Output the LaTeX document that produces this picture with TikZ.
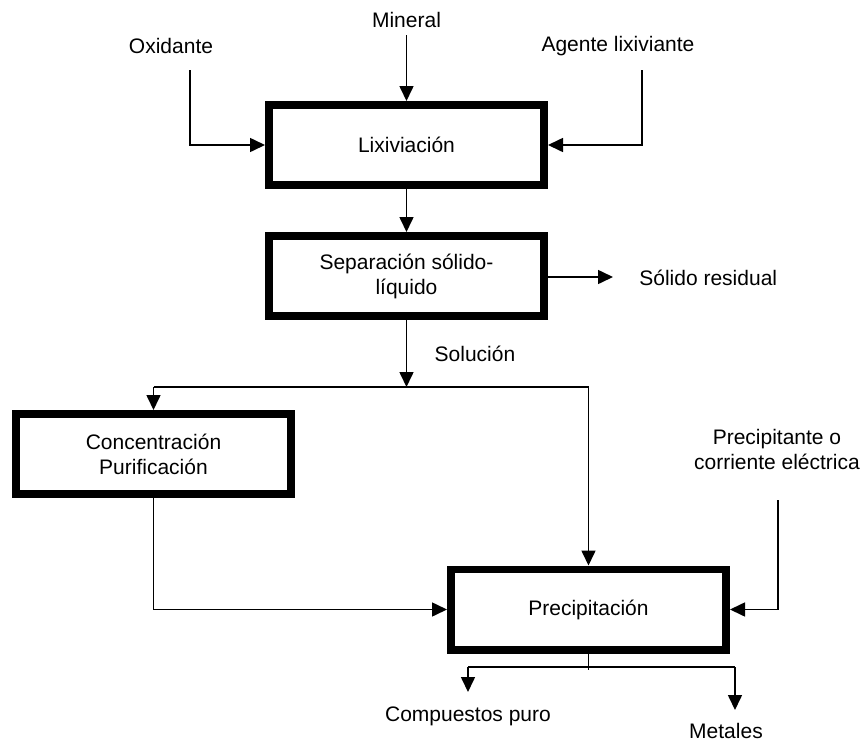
\documentclass[tikz,border=0pt]{standalone}
\usepackage{fontspec}
\setmainfont{Liberation Sans}
\usetikzlibrary{arrows.meta}
\begin{document}
\begin{tikzpicture}[x=0.5pt,y=-0.5pt,
  every node/.style={font=\fontsize{10.5}{12.5}\selectfont, align=center, inner sep=0pt},
  procbox/.style={draw, line width=3.8pt, minimum width=137.7pt, minimum height=40.2pt},
  lbl/.style={},
  conn/.style={line width=0.8pt},
  arr/.style={conn, -{Triangle[length=7.5pt,width=7pt]}},
]
\useasboundingbox (0,0) rectangle (864,740);
% boxes
\node[procbox] (lix)  at (406.5,145) {Lixiviación};
\node[procbox] (sep)  at (406.5,276) {Separación sólido-\\líquido};
\node[procbox] (conc) at (153.5,454) {Concentración\\Purificación};
\node[procbox] (prec) at (588.5,609.5) {Precipitación};
% labels
\node[lbl] (mineral) at (406.5,20) {Mineral};
\node[lbl] (oxid) at (171,46) {Oxidante};
\node[lbl] (agente) at (618,46) {Agente lixiviante};
\node[lbl, anchor=west] (solres) at (639,278) {Sólido residual};
\node[lbl] (solucion) at (475,354) {Solución};
\node[lbl] (precip) at (777,449) {Precipitante o\\corriente eléctrica};
\node[lbl] (comp) at (468,716) {Compuestos puro};
\node[lbl] (metales) at (726,731) {Metales};
% coordinates
\coordinate (ox0) at (190,70);
\coordinate (ag0) at (642,70);
\coordinate (min0) at (406.5,35);
\coordinate (res1) at (613,277);
\coordinate (split) at (406.5,387);
\coordinate (splitL) at (153.5,387);
\coordinate (splitR) at (588.5,387);
\coordinate (pr0) at (778,500);
\coordinate (stub) at (588.5,670);
\coordinate (outL) at (468,667);
\coordinate (outR) at (735,667);
\coordinate (compA) at (468,692);
\coordinate (metA) at (735,710);
% connectors
\draw[arr] (min0) -- (lix.north);
\draw[arr] (ox0) |- (lix.west);
\draw[arr] (ag0) |- (lix.east);
\draw[arr] (lix.south) -- (sep.north);
\draw[arr] (sep.east |- res1) -- (res1);
\draw[arr] (sep.south) -- (split);
\draw[conn] (splitL) -- (splitR);
\draw[arr] (splitL) -- (conc.north);
\draw[arr] (splitR) -- (prec.north);
\draw[arr] (conc.south) |- (prec.west);
\draw[arr] (pr0) |- (prec.east);
\draw[conn] (prec.south) -- (stub);
\draw[conn] (outL) -- (outR);
\draw[arr] (outL) -- (compA);
\draw[arr] (outR) -- (metA);
\end{tikzpicture}
\end{document}
